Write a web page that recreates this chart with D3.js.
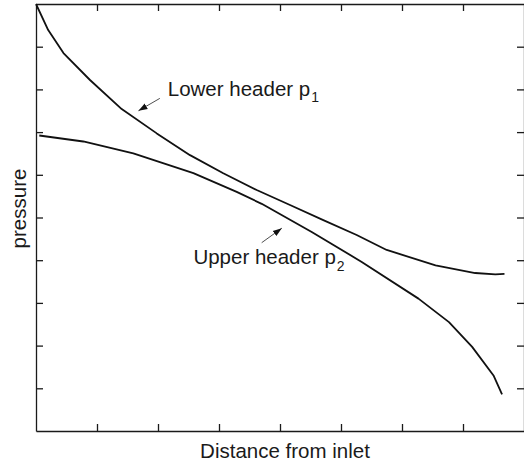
<!DOCTYPE html>
<html>
<head>
<meta charset="utf-8">
<script src="https://cdn.jsdelivr.net/npm/d3@7"></script>
<style>
  html, body { margin: 0; padding: 0; background: #fff; }
  svg { display: block; }
  text { font-family: "Liberation Sans", Arial, Helvetica, sans-serif; fill: #1a1a1a; }
</style>
</head>
<body>
<svg id="chart" width="524" height="464"></svg>
<script>
// Pressure along the two headers (arbitrary units), distance from inlet (arbitrary units)
const lowerHeaderX = [0, 0.20, 0.45, 0.885, 1.405, 1.98, 2.525, 3.07, 3.618, 4.164, 4.71, 5.257, 5.749, 6.55, 7.20, 7.53, 7.68];
const lowerHeaderP = [10, 9.39, 8.85, 8.22, 7.54, 6.97, 6.46, 6.035, 5.644, 5.293, 4.94, 4.59, 4.24, 3.88, 3.70, 3.67, 3.68];

const upperHeaderX = [0.054, 0.775, 1.595, 2.58, 3.29, 3.70, 4.52, 5.34, 6.27, 6.77, 7.15, 7.50, 7.64];
const upperHeaderP = [6.92, 6.78, 6.50, 6.04, 5.60, 5.32, 4.66, 3.96, 3.10, 2.55, 1.97, 1.30, 0.86];

const xTicks = [1, 2, 3, 4, 5, 6, 7];
const yTicks = [1, 2, 3, 4, 5, 6, 7, 8, 9];

// Annotation labels with their pointer arrows (data units)
const labelNames = ["Lower header p", "Upper header p"];
const labelSubs = ["1", "2"];
const labelX = [2.16, 2.58];
const labelY = [7.85, 3.91];
const arrowFromX = [2.03, 3.70];
const arrowFromY = [7.79, 4.41];
const arrowToX = [1.68, 4.03];
const arrowToY = [7.50, 4.75];

const svg = d3.select("#chart");
const plot = { left: 36, right: 524, top: 4, bottom: 431 };

const x = d3.scaleLinear().domain([0, 8]).range([plot.left, plot.right]);
const y = d3.scaleLinear().domain([0, 10]).range([plot.bottom, plot.top]);

const axisColor = "#1a1a1a";
const tickLen = 7;

function styleAxis(g) {
  g.select(".domain").attr("stroke", axisColor).attr("stroke-width", 1.3);
  g.selectAll(".tick line").attr("stroke", axisColor).attr("stroke-width", 1.3);
  g.selectAll(".tick text").remove();
}

svg.append("g").attr("transform", `translate(0,${plot.bottom})`)
  .call(d3.axisBottom(x).tickValues(xTicks).tickSizeInner(-tickLen).tickSizeOuter(0).tickFormat(""))
  .call(styleAxis);
svg.append("g").attr("transform", `translate(0,${plot.top})`)
  .call(d3.axisTop(x).tickValues(xTicks).tickSizeInner(-tickLen).tickSizeOuter(0).tickFormat(""))
  .call(styleAxis);
svg.append("g").attr("transform", `translate(${plot.left},0)`)
  .call(d3.axisLeft(y).tickValues(yTicks).tickSizeInner(-tickLen).tickSizeOuter(0).tickFormat(""))
  .call(styleAxis);
svg.append("g").attr("transform", `translate(${plot.right},0)`)
  .call(d3.axisRight(y).tickValues(yTicks).tickSizeInner(-tickLen).tickSizeOuter(0).tickFormat(""))
  .call(styleAxis);

// Curves (piecewise straight between read-off points)
const line = d3.line().x(d => x(d[0])).y(d => y(d[1])).curve(d3.curveLinear);
const series = [
  d3.zip(lowerHeaderX, lowerHeaderP),
  d3.zip(upperHeaderX, upperHeaderP)
];
svg.append("g").selectAll("path").data(series).join("path")
  .attr("d", line)
  .attr("fill", "none")
  .attr("stroke", "#111")
  .attr("stroke-width", 1.8)
  .attr("stroke-linejoin", "round");

// Arrowhead
svg.append("defs").append("marker")
  .attr("id", "head")
  .attr("viewBox", "0 0 10 10")
  .attr("refX", 10).attr("refY", 5)
  .attr("markerWidth", 9).attr("markerHeight", 9)
  .attr("markerUnits", "userSpaceOnUse")
  .attr("orient", "auto")
  .append("path").attr("d", "M0,1.5 L10,5 L0,8.5 Z").attr("fill", "#111");

const ann = svg.append("g");
labelNames.forEach((name, i) => {
  ann.append("line")
    .attr("x1", x(arrowFromX[i])).attr("y1", y(arrowFromY[i]))
    .attr("x2", x(arrowToX[i])).attr("y2", y(arrowToY[i]))
    .attr("stroke", "#222").attr("stroke-width", 0.8)
    .attr("marker-end", "url(#head)");
  const t = ann.append("text")
    .attr("x", x(labelX[i])).attr("y", y(labelY[i]))
    .attr("font-size", 20.5);
  t.append("tspan").text(name);
  t.append("tspan").attr("font-size", 14).attr("dy", 6.5).attr("dx", 1).text(labelSubs[i]);
});

// Axis titles
svg.append("text")
  .attr("x", 285).attr("y", 457.5)
  .attr("text-anchor", "middle")
  .attr("font-size", 20.5)
  .text("Distance from inlet");

svg.append("text")
  .attr("transform", "translate(26,208.5) rotate(-90)")
  .attr("text-anchor", "middle")
  .attr("font-size", 20.5)
  .text("pressure");
</script>
</body>
</html>
